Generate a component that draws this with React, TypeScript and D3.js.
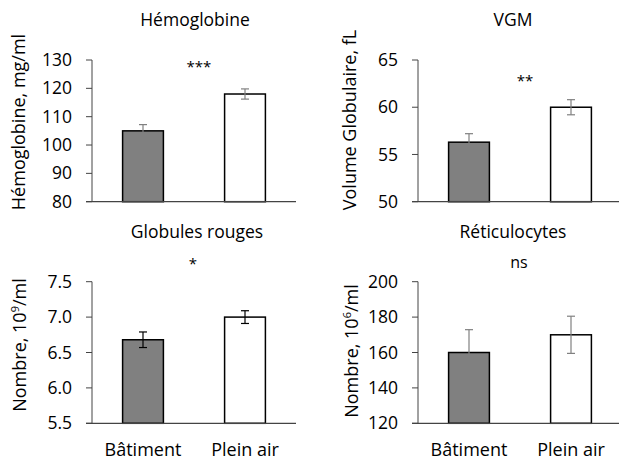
import React from 'react';
import * as d3 from 'd3';

const categories = ['Bâtiment', 'Plein air'];
const titles = ['Hémoglobine', 'VGM', 'Globules rouges', 'Réticulocytes'];
const significance = ['***', '**', '*', 'ns'];

const hemoglobine = [105, 118];
const hemoglobineErr = [2.2, 1.8];
const vgm = [56.3, 60];
const vgmErr = [0.9, 0.8];
const globules = [6.68, 7.0];
const globulesErr = [0.11, 0.09];
const reticulocytes = [160, 170];
const reticulocytesErr = [12.9, 10.5];

const hemoTicks = [80, 90, 100, 110, 120, 130];
const vgmTicks = [50, 55, 60, 65];
const globTicks = [5.5, 6.0, 6.5, 7.0, 7.5];
const retiTicks = [120, 140, 160, 180, 200];

const FONT = "'Open Sans', sans-serif";
const barFill = ['#808080', '#ffffff'];

// layout per panel (pixels)
const panels = [
  { values: hemoglobine, errs: hemoglobineErr, ticks: hemoTicks, fmt: d3.format('d'),
    label: [<tspan key="a">Hémoglobine, mg/ml</tspan>],
    x0: 92, top: 60, bottom: 201.7, titleX: 195, titleY: 26, labelX: 19, labelY: 122,
    sigX: 199, sigY: 72, sigSize: 15, errColor: '#808080' },
  { values: vgm, errs: vgmErr, ticks: vgmTicks, fmt: d3.format('d'),
    label: [<tspan key="a">Volume Globulaire, fL</tspan>],
    x0: 418, top: 60, bottom: 201.7, titleX: 513, titleY: 26, labelX: 350, labelY: 120,
    sigX: 525, sigY: 86, sigSize: 15, errColor: '#808080' },
  { values: globules, errs: globulesErr, ticks: globTicks, fmt: d3.format('.1f'),
    label: [<tspan key="a">Nombre, 10</tspan>, <tspan key="b" dy="-7" fontSize="11">9</tspan>, <tspan key="c" dy="7">/ml</tspan>],
    x0: 92, top: 281.7, bottom: 423.3, titleX: 197, titleY: 238, labelX: 20, labelY: 345,
    sigX: 193, sigY: 269, sigSize: 15, errColor: '#000000' },
  { values: reticulocytes, errs: reticulocytesErr, ticks: retiTicks, fmt: d3.format('d'),
    label: [<tspan key="a">Nombre, 10</tspan>, <tspan key="b" dy="-7" fontSize="11">6</tspan>, <tspan key="c" dy="7">/ml</tspan>],
    x0: 418, top: 281.7, bottom: 423.3, titleX: 513, titleY: 238, labelX: 352, labelY: 351,
    sigX: 519, sigY: 268, sigSize: 16, errColor: '#808080' },
];

const PLOT_W = 204;

function Panel({ p, i }: { p: any; i: number }) {
  const x = d3.scaleBand<string>()
    .domain(categories)
    .range([p.x0, p.x0 + PLOT_W])
    .paddingInner(0.6)
    .paddingOuter(0.3);
  const y = d3.scaleLinear()
    .domain([p.ticks[0], p.ticks[p.ticks.length - 1]])
    .range([p.bottom, p.top]);
  const bw = x.bandwidth();

  return (
    <g>
      <text x={p.titleX} y={p.titleY} textAnchor="middle" fontSize={17.5} fill="#000">{titles[i]}</text>
      <text x={p.sigX} y={p.sigY} textAnchor="middle" fontSize={p.sigSize} fill="#000">{significance[i]}</text>
      <text transform={`translate(${p.labelX},${p.labelY}) rotate(-90)`} textAnchor="middle" dy="0.35em" fontSize={18} fill="#000">
        {p.label}
      </text>
      {categories.map((c, j) => (
        <rect key={c} x={x(c)} y={y(p.values[j])} width={bw} height={y.range()[0] - y(p.values[j])}
          fill={barFill[j]} stroke="#000" strokeWidth={1.5} />
      ))}
      {categories.map((c, j) => {
        const cx = (x(c) as number) + bw / 2;
        const hi = y(p.values[j] + p.errs[j]);
        const lo = y(p.values[j] - p.errs[j]);
        return (
          <g key={c} stroke={p.errColor} strokeWidth={1.2}>
            <line x1={cx} x2={cx} y1={hi} y2={lo} />
            <line x1={cx - 4} x2={cx + 4} y1={hi} y2={hi} />
            <line x1={cx - 4} x2={cx + 4} y1={lo} y2={lo} />
          </g>
        );
      })}
      <line x1={p.x0} x2={p.x0} y1={p.top} y2={p.bottom} stroke="#444" strokeWidth={1} />
      <line x1={p.x0 - 6} x2={p.x0 + PLOT_W} y1={p.bottom} y2={p.bottom} stroke="#444" strokeWidth={1.3} />
      {p.ticks.map((t: number) => (
        <g key={t}>
          <line x1={p.x0 - 6} x2={p.x0} y1={y(t)} y2={y(t)} stroke="#444" strokeWidth={1} />
          <text x={p.x0 - 20} y={y(t)} dy="0.35em" textAnchor="end" fontSize={17.5} fill="#000">{p.fmt(t)}</text>
        </g>
      ))}
      {i >= 2 && categories.map((c) => (
        <text key={c} x={(x(c) as number) + bw / 2} y={456} textAnchor="middle" fontSize={18} fill="#000">{c}</text>
      ))}
    </g>
  );
}

export default function App() {
  return (
    <svg width={619} height={463} style={{ position: 'absolute', left: 0, top: 0, background: '#fff' }} fontFamily={FONT}>
      <rect width={619} height={463} fill="#fff" />
      {panels.map((p, i) => <Panel key={i} p={p} i={i} />)}
    </svg>
  );
}
